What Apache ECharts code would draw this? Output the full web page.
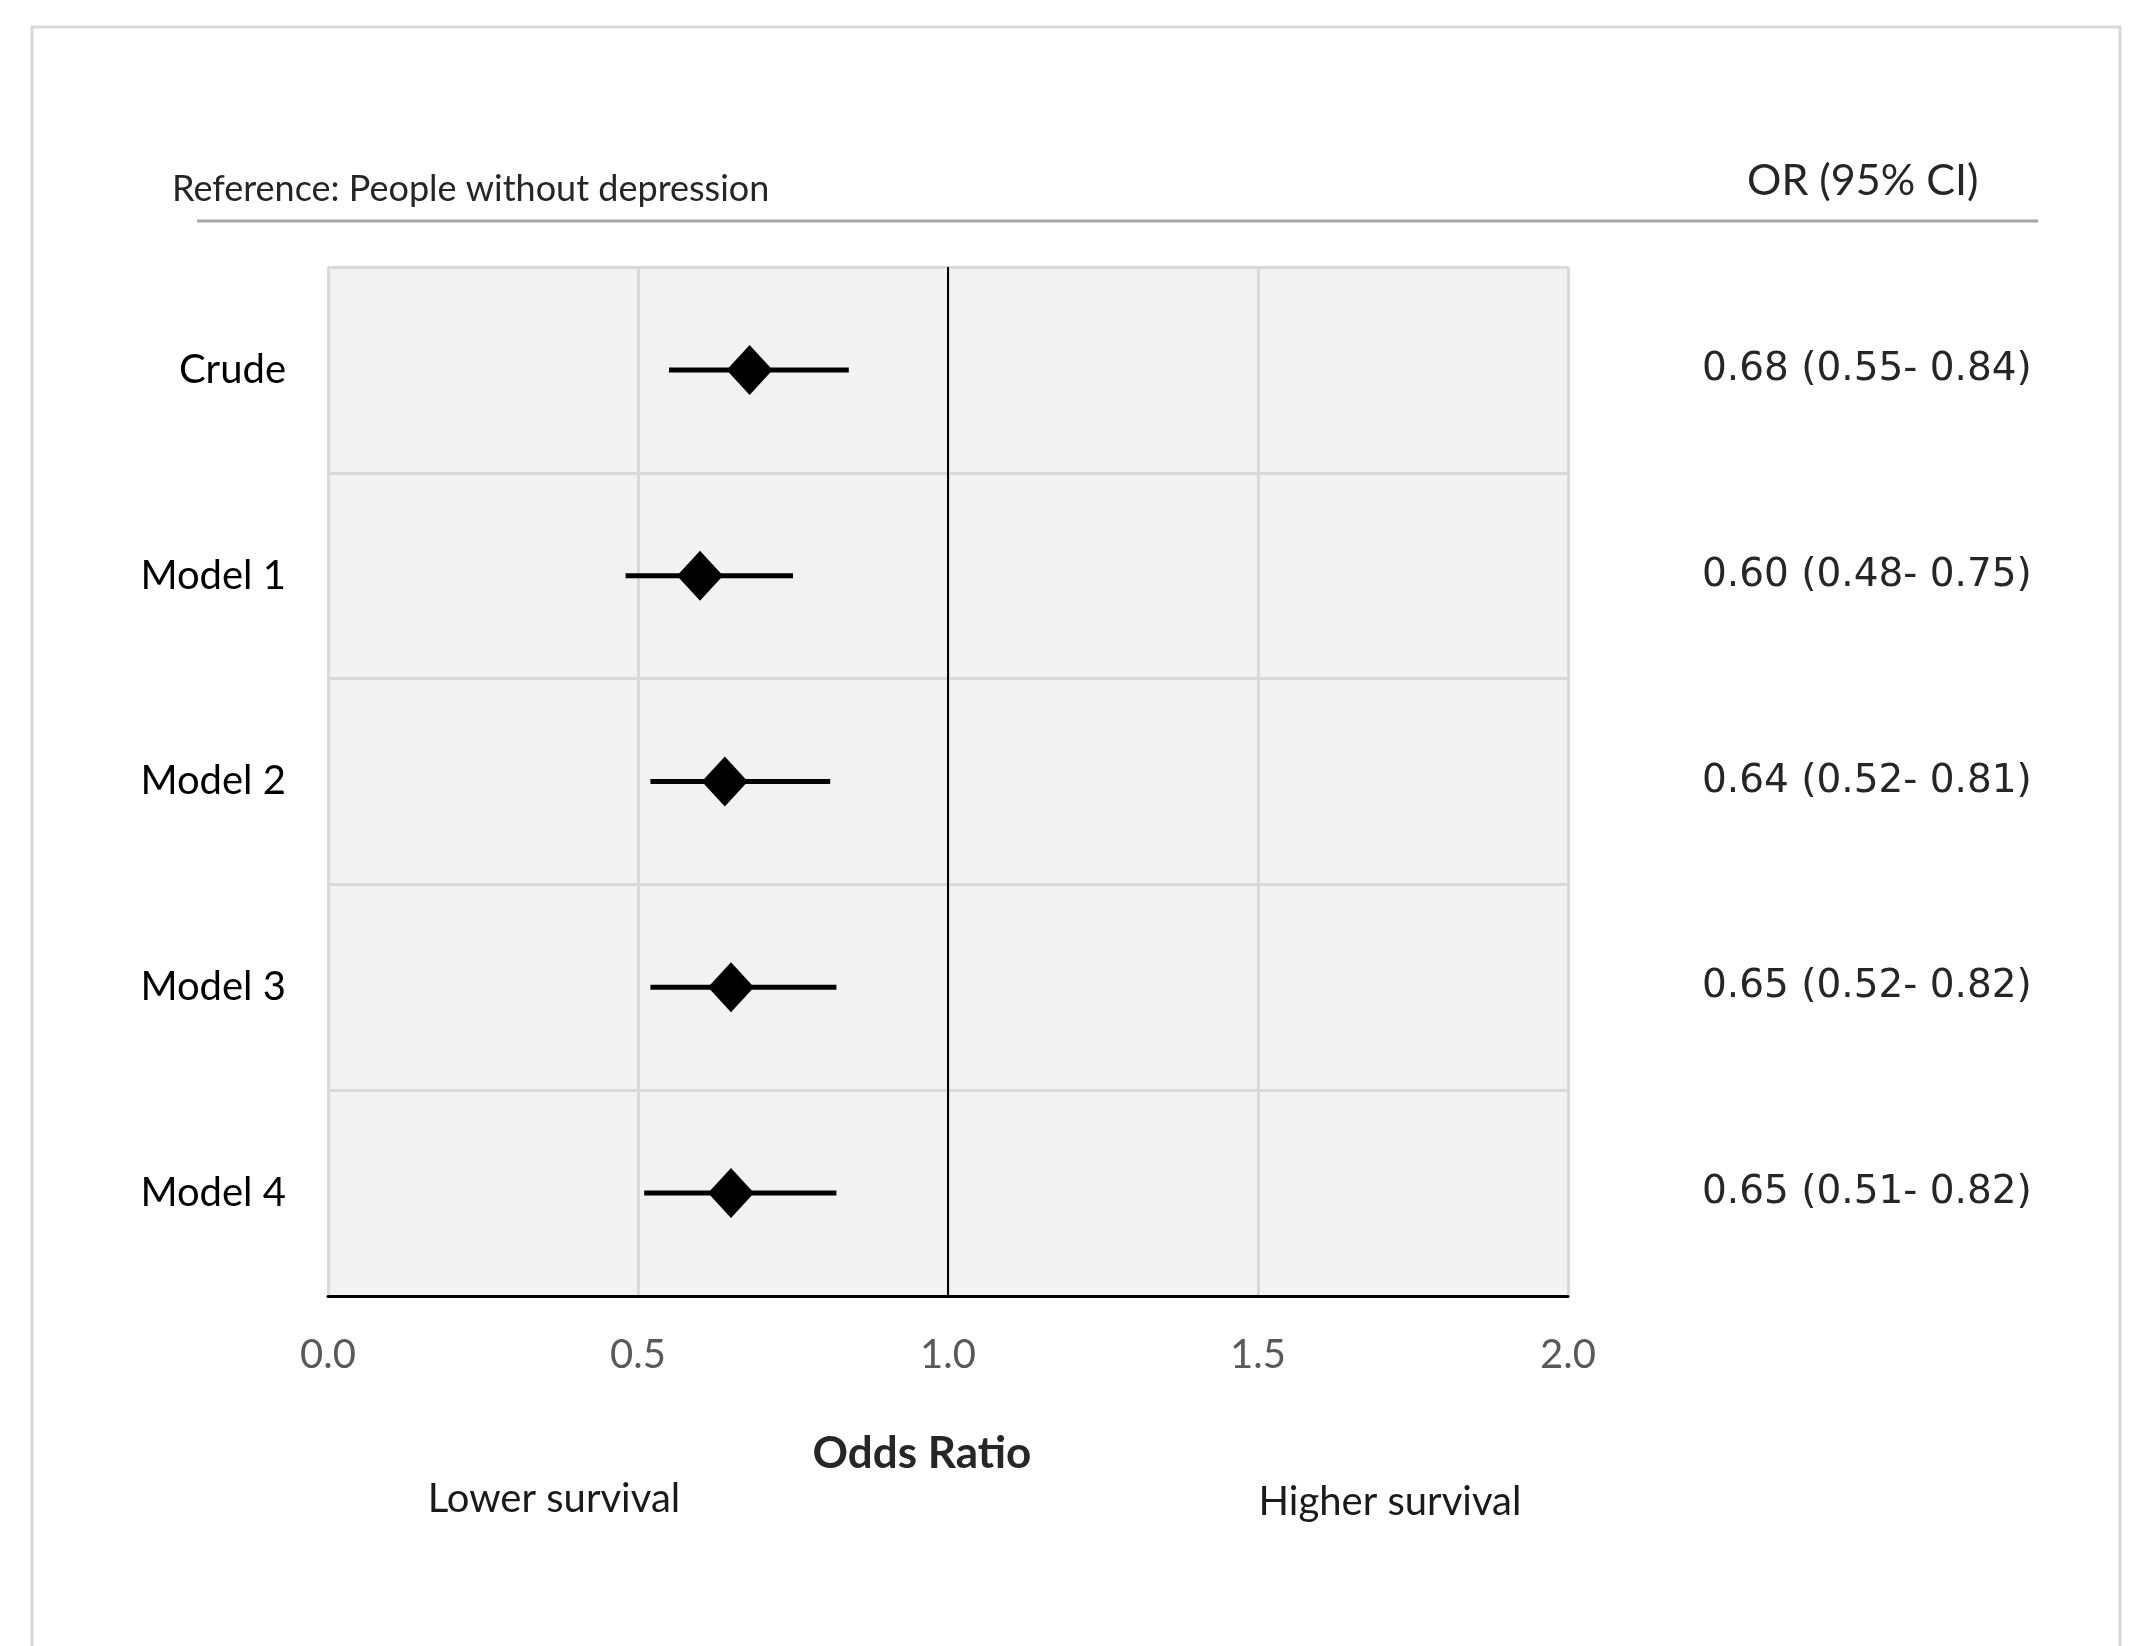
<!DOCTYPE html>
<html>
<head>
<meta charset="utf-8">
<script src="https://cdn.jsdelivr.net/npm/echarts@6/dist/echarts.min.js"></script>
<style>html,body{margin:0;padding:0;background:#fff}#c{width:2134px;height:1646px}</style>
</head>
<body>
<div id="c"></div>
<script>
const categories = ['Crude', 'Model 1', 'Model 2', 'Model 3', 'Model 4'];
const orValues = [0.68, 0.60, 0.64, 0.65, 0.65];
const ciLower = [0.55, 0.48, 0.52, 0.52, 0.51];
const ciUpper = [0.84, 0.75, 0.81, 0.82, 0.82];
const xMin = 0, xMax = 2, xInterval = 0.5;
const headerLeft = 'Reference: People without depression';
const headerRight = 'OR (95% CI)';
const axisTitle = 'Odds Ratio';
const leftNote = 'Lower survival';
const rightNote = 'Higher survival';

const orLabels = orValues.map((v, i) => v.toFixed(2) + ' (' + ciLower[i].toFixed(2) + '- ' + ciUpper[i].toFixed(2) + ')');

const FONT = 'Lato';
const chart = echarts.init(document.getElementById('c'), null, {renderer: 'canvas'});
const option = {
  backgroundColor: '#ffffff',
  animation: false,
  grid: {left: 328, top: 267, right: 566, bottom: 350, show: true, backgroundColor: '#f2f2f2', borderWidth: 0},
  graphic: [
    {type: 'rect', shape: {x: 32, y: 27, width: 2088, height: 1700}, style: {fill: null, stroke: '#d9d9d9', lineWidth: 3}, silent: true},
    {type: 'line', shape: {x1: 197, y1: 221, x2: 2038, y2: 221}, style: {stroke: '#a6a6a6', lineWidth: 3}, silent: true},
    {type: 'text', left: 172, top: 171, style: {text: headerLeft, font: '36px Lato', fill: '#262626'}},
    {type: 'text', left: 1747, top: 160, style: {text: headerRight, font: '43px Lato', fill: '#262626'}},
    {type: 'text', x: 554, y: 1499, style: {text: leftNote, font: '40px Lato', fill: '#1a1a1a', align: 'center', verticalAlign: 'middle'}},
    {type: 'text', x: 1390, y: 1502, style: {text: rightNote, font: '40px Lato', fill: '#1a1a1a', align: 'center', verticalAlign: 'middle'}}
  ],
  xAxis: {
    type: 'value', min: xMin, max: xMax, interval: xInterval,
    name: axisTitle, nameLocation: 'middle', nameGap: 136,
    nameTextStyle: {fontFamily: FONT, fontSize: 44, fontWeight: 'bold', color: '#262626', padding: [0, 52, 0, 0]},
    axisLine: {show: true, lineStyle: {color: '#000', width: 3}},
    axisTick: {show: false},
    axisLabel: {fontFamily: FONT, fontSize: 40, color: '#595959', margin: 39, formatter: v => v.toFixed(1)},
    splitLine: {show: true, lineStyle: {color: '#d9d9d9', width: 3}}
  },
  yAxis: [
    {
      type: 'category', data: categories, inverse: true, boundaryGap: true,
      axisLine: {show: false}, axisTick: {show: false},
      axisLabel: {fontFamily: FONT, fontSize: 40, color: '#000', margin: 42},
      splitLine: {show: true, lineStyle: {color: '#d9d9d9', width: 3}}
    },
    {
      type: 'category', data: categories, inverse: true, position: 'right',
      axisLine: {show: false}, axisTick: {show: false}, splitLine: {show: false},
      axisLabel: {fontFamily: 'DejaVu Sans', fontSize: 39, color: '#262626', margin: 134, align: 'left',
        formatter: (v, i) => orLabels[i]}
    }
  ],
  series: [
    {
      type: 'custom', yAxisIndex: 0,
      data: categories.map((c, i) => [ciLower[i], ciUpper[i], i]),
      renderItem: function (params, api) {
        const p1 = api.coord([api.value(0), api.value(2)]);
        const p2 = api.coord([api.value(1), api.value(2)]);
        return {type: 'line', shape: {x1: p1[0], y1: p1[1], x2: p2[0], y2: p2[1]}, style: {stroke: '#000', lineWidth: 5}};
      },
      markLine: {
        silent: true, symbol: 'none', label: {show: false},
        lineStyle: {color: '#000', width: 2, type: 'solid'},
        data: [{xAxis: 1}]
      },
      z: 3
    },
    {
      type: 'scatter', yAxisIndex: 0,
      data: categories.map((c, i) => [orValues[i], i]),
      symbol: 'diamond', symbolSize: [46, 50],
      itemStyle: {color: '#000', opacity: 1},
      z: 4
    }
  ]
};
chart.setOption(option);
</script>
</body>
</html>
